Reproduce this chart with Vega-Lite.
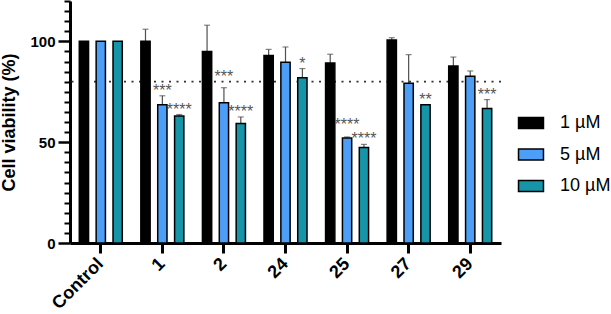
{
  "$schema": "https://vega.github.io/schema/vega-lite/v6.json",
  "autosize": {"type": "none"},
  "width": 431,
  "height": 242,
  "padding": {"left": 70, "top": 1, "right": 110, "bottom": 71},
  "background": "white",
  "config": {
    "view": {"stroke": null},
    "font": "Liberation Sans"
  },
  "datasets": {
    "bars": [
      {"group": "Control", "conc": "1 µM", "value": 100, "upper": null},
      {"group": "Control", "conc": "5 µM", "value": 100, "upper": null},
      {"group": "Control", "conc": "10 µM", "value": 100, "upper": null},
      {"group": "1", "conc": "1 µM", "value": 100, "upper": 106},
      {"group": "1", "conc": "5 µM", "value": 68.6, "upper": 73},
      {"group": "1", "conc": "10 µM", "value": 63, "upper": 63.7},
      {"group": "2", "conc": "1 µM", "value": 95, "upper": 108},
      {"group": "2", "conc": "5 µM", "value": 69.6, "upper": 77},
      {"group": "2", "conc": "10 µM", "value": 59.3, "upper": 62.5},
      {"group": "24", "conc": "1 µM", "value": 93, "upper": 96},
      {"group": "24", "conc": "5 µM", "value": 89.6, "upper": 97.2},
      {"group": "24", "conc": "10 µM", "value": 82, "upper": 86.5},
      {"group": "25", "conc": "1 µM", "value": 89.3, "upper": 93.6},
      {"group": "25", "conc": "5 µM", "value": 52.1, "upper": 52.6},
      {"group": "25", "conc": "10 µM", "value": 47.4, "upper": 48.9},
      {"group": "27", "conc": "1 µM", "value": 100.6, "upper": 101.8},
      {"group": "27", "conc": "5 µM", "value": 79.2, "upper": 93.4},
      {"group": "27", "conc": "10 µM", "value": 68.5, "upper": null},
      {"group": "29", "conc": "1 µM", "value": 87.8, "upper": 92.2},
      {"group": "29", "conc": "5 µM", "value": 82.7, "upper": 85.3},
      {"group": "29", "conc": "10 µM", "value": 66.7, "upper": 71.1}
    ],
    "stars": [
      {"group": "1", "conc": "5 µM", "label": "***", "at": 73},
      {"group": "1", "conc": "10 µM", "label": "****", "at": 63.7},
      {"group": "2", "conc": "5 µM", "label": "***", "at": 80},
      {"group": "2", "conc": "10 µM", "label": "****", "at": 62.5},
      {"group": "24", "conc": "10 µM", "label": "*", "at": 86.5},
      {"group": "25", "conc": "5 µM", "label": "****", "at": 56},
      {"group": "25", "conc": "10 µM", "label": "****", "at": 48.9},
      {"group": "27", "conc": "10 µM", "label": "**", "at": 68.5},
      {"group": "29", "conc": "10 µM", "label": "***", "at": 71.1}
    ]
  },
  "layer": [
    {
      "data": {"values": [{"threshold": 80}]},
      "mark": {"type": "rule", "strokeDash": [2, 5.5], "strokeWidth": 1.6, "color": "#333333"},
      "encoding": {
        "y": {"field": "threshold", "type": "quantitative", "scale": {"domain": [0, 120], "nice": false}, "axis": null}
      }
    },
    {
      "data": {"name": "bars"},
      "transform": [{"filter": "datum.upper != null"}],
      "mark": {"type": "rule", "color": "#505050", "strokeWidth": 1.2},
      "encoding": {
        "x": {"field": "group", "type": "nominal", "sort": ["Control", "1", "2", "24", "25", "27", "29"]},
        "xOffset": {"field": "conc", "type": "nominal", "sort": ["1 µM", "5 µM", "10 µM"]},
        "y": {"field": "value", "type": "quantitative", "axis": null},
        "y2": {"field": "upper"}
      }
    },
    {
      "data": {"name": "bars"},
      "transform": [{"filter": "datum.upper != null"}],
      "mark": {"type": "tick", "color": "#505050", "thickness": 1.2, "size": 6},
      "encoding": {
        "x": {"field": "group", "type": "nominal", "sort": ["Control", "1", "2", "24", "25", "27", "29"]},
        "xOffset": {"field": "conc", "type": "nominal", "sort": ["1 µM", "5 µM", "10 µM"]},
        "y": {"field": "upper", "type": "quantitative", "axis": null}
      }
    },
    {
      "data": {"name": "bars"},
      "mark": {"type": "point", "opacity": 0},
      "encoding": {
        "y": {
          "field": "value", "type": "quantitative",
          "axis": {
            "values": [5, 10, 15, 20, 25, 30, 35, 40, 45, 55, 60, 65, 70, 75, 80, 85, 90, 95, 105, 110, 115, 120],
            "orient": "left", "labels": false, "domain": false, "title": null, "grid": false,
            "tickSize": 6, "tickWidth": 2, "tickColor": "black"
          }
        }
      }
    },
    {
      "data": {"name": "bars"},
      "mark": {"type": "bar", "stroke": "black", "strokeWidth": 1.5},
      "encoding": {
        "x": {
          "field": "group", "type": "nominal", "sort": ["Control", "1", "2", "24", "25", "27", "29"], "title": null,
          "scale": {"paddingInner": 0, "paddingOuter": 0},
          "axis": {
            "labelAngle": -45, "labelAlign": "right", "labelBaseline": "middle",
            "labelFontSize": 18, "labelFontWeight": "bold", "labelColor": "black",
            "labelPadding": 8,
            "tickSize": 10, "tickWidth": 3, "tickColor": "black",
            "domainWidth": 3, "domainColor": "black"
          }
        },
        "xOffset": {
          "field": "conc", "type": "nominal", "sort": ["1 µM", "5 µM", "10 µM"],
          "scale": {"paddingInner": 0.45, "paddingOuter": 0.55}
        },
        "y": {
          "field": "value", "type": "quantitative",
          "title": "Cell viability (%)",
          "axis": {
            "orient": "left",
            "values": [0, 50, 100],
            "labelFontSize": 15, "labelFontWeight": "bold", "labelColor": "black",
            "labelPadding": 3,
            "tickSize": 12, "tickWidth": 2.5, "tickColor": "black",
            "domainWidth": 3, "domainColor": "black",
            "grid": false,
            "titleFontSize": 18, "titleFontWeight": "bold", "titleColor": "black",
            "titlePadding": 11
          }
        },
        "fill": {
          "field": "conc", "type": "nominal", "sort": ["1 µM", "5 µM", "10 µM"],
          "scale": {"domain": ["1 µM", "5 µM", "10 µM"], "range": ["#000000", "#4d9ef6", "#1695a8"]},
          "legend": {
            "title": null, "orient": "none", "legendX": 448, "legendY": 109,
            "padding": 0,
            "symbolType": "M-1.04,-0.46H1.04V0.46H-1.04Z",
            "symbolSize": 576, "symbolStrokeColor": "black", "symbolStrokeWidth": 1.5,
            "symbolOpacity": 1,
            "labelFontSize": 18, "labelColor": "black", "labelOffset": 16,
            "rowPadding": 9.5
          }
        }
      }
    },
    {
      "data": {"name": "stars"},
      "mark": {"type": "text", "fontSize": 16, "color": "#555555", "baseline": "alphabetic", "dy": 0},
      "encoding": {
        "x": {"field": "group", "type": "nominal", "sort": ["Control", "1", "2", "24", "25", "27", "29"]},
        "xOffset": {"field": "conc", "type": "nominal", "sort": ["1 µM", "5 µM", "10 µM"]},
        "y": {"field": "at", "type": "quantitative", "axis": null},
        "text": {"field": "label"}
      }
    }
  ],
  "resolve": {"axis": {"y": "independent"}}
}
